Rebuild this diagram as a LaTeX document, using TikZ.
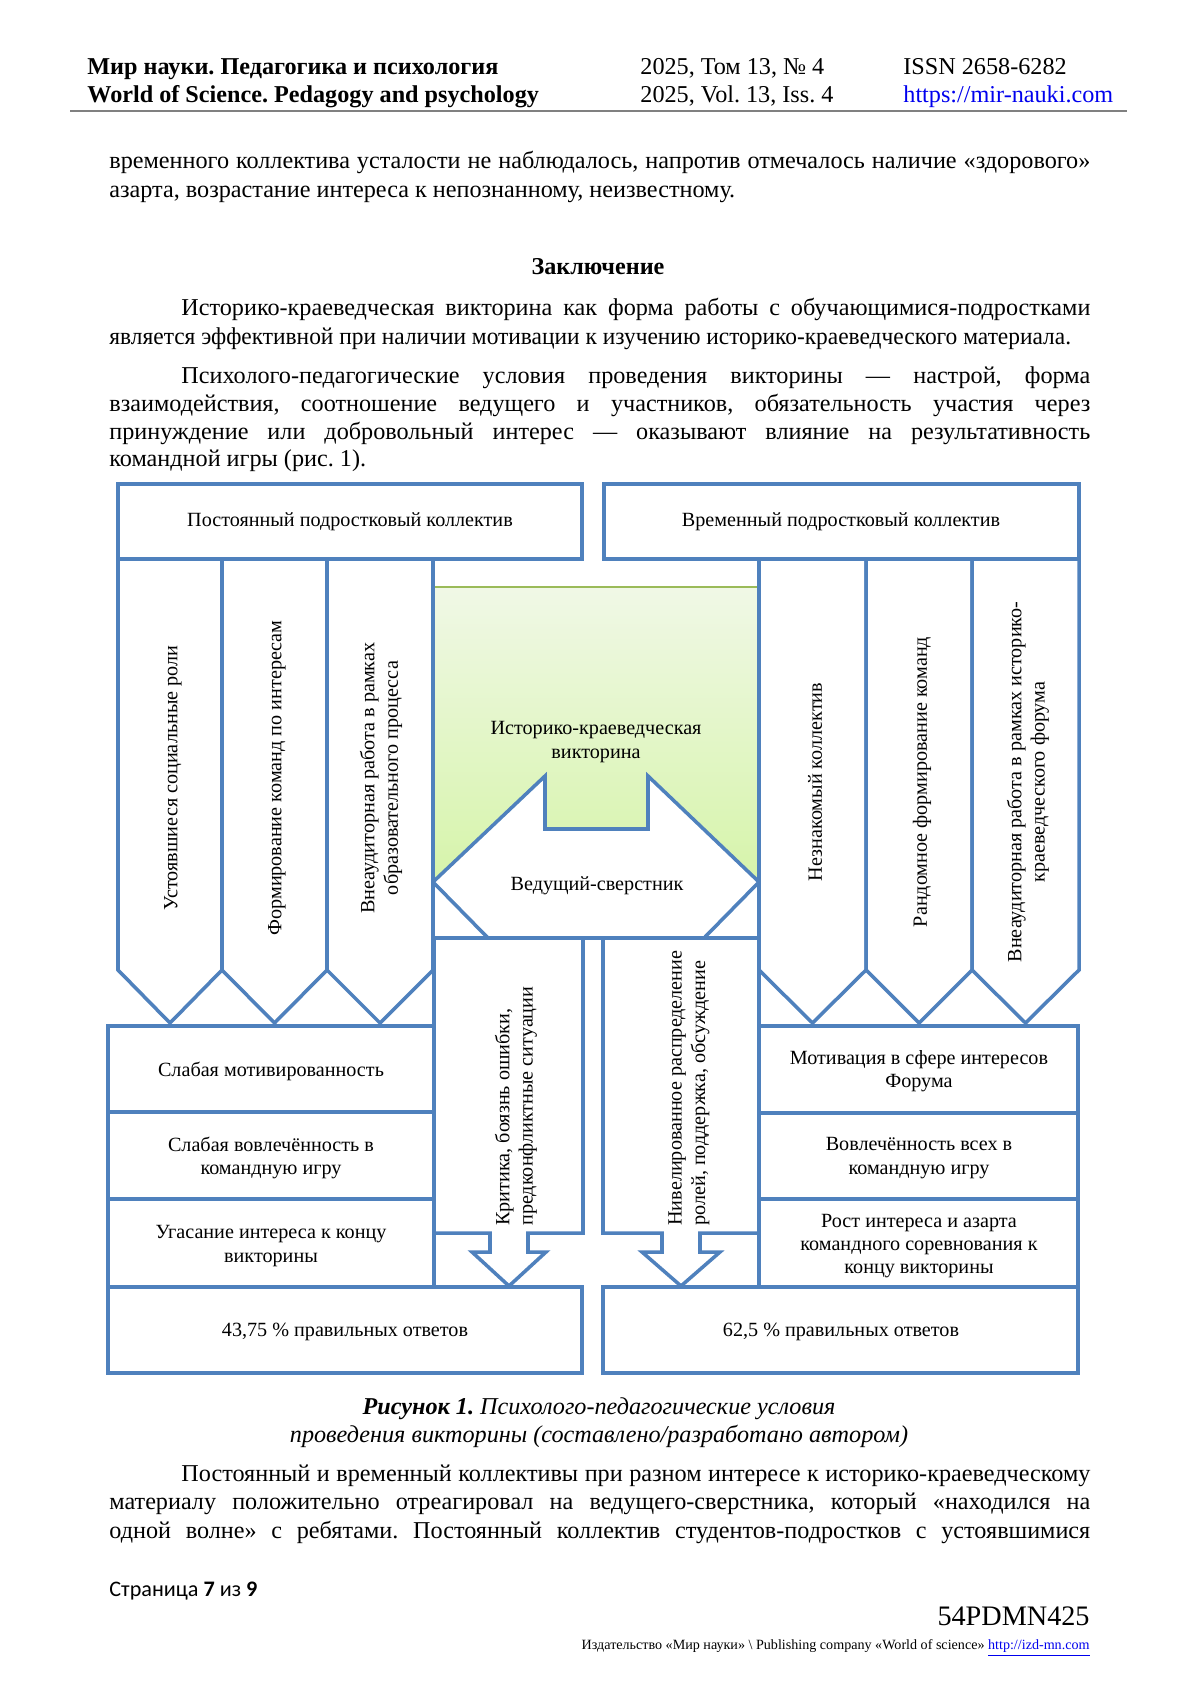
\documentclass[tikz,border=0pt]{standalone}
\usepackage{fontspec}
\usepackage{graphicx}
\setmainfont{Liberation Serif}
\newfontfamily\calibrifont{Carlito}
\definecolor{bblue}{RGB}{79,129,189}
\definecolor{gline}{RGB}{155,187,89}
\definecolor{gtop}{RGB}{240,248,230}
\definecolor{gbot}{RGB}{214,244,170}
\definecolor{linkblue}{RGB}{0,0,238}
\tikzset{
  bx/.style={draw=bblue, line width=1.75pt, fill=white, line join=miter},
  dtxt/.style={inner sep=0pt, font=\fontsize{10}{11.6}\selectfont, align=center},
  body/.style={inner sep=0pt, font=\fontsize{12}{13.8}\selectfont},
}
\begin{document}
\frenchspacing
\begin{tikzpicture}[x=0.49606pt, y=-0.49606pt]
\useasboundingbox (0,0) rectangle (1200,1697);
\fill[white] (0,0) rectangle (1200,1697);

% ---------- header ----------
\node[body, anchor=mid west, font=\fontsize{12}{13.8}\selectfont\bfseries] (h1) at (87,70) {Мир науки. Педагогика и психология};
\node[body, anchor=mid west, font=\fontsize{12}{13.8}\selectfont\bfseries] (h2) at (87,98) {World of Science. Pedagogy and psychology};
\node[body, anchor=mid west] (h3) at (640,70) {2025, Том 13, № 4};
\node[body, anchor=mid west] (h4) at (640,98) {2025, Vol. 13, Iss. 4};
\node[body, anchor=mid west] (h5) at (903,70) {ISSN 2658-6282};
\node[body, anchor=mid west, text=linkblue] (h6) at (903,98) {\underline{https://mir-nauki.com}};
\draw[black!50, line width=1.2pt] (70,111) -- (1127,111);

% ---------- body text ----------
\node[body, anchor=mid west] (b1) at (109,164) {\makebox[486.6pt][s]{временного коллектива усталости не наблюдалось, напротив отмечалось наличие «здорового»}};
\node[body, anchor=mid west] (b2) at (109,193) {азарта, возрастание интереса к непознанному, неизвестному.};
\node[body, anchor=mid, font=\fontsize{12}{13.8}\selectfont\bfseries] (hd) at (598,270) {Заключение};
\node[body, anchor=mid west] (b3) at (181,311) {\makebox[450.9pt][s]{Историко-краеведческая викторина как форма работы с обучающимися-подростками}};
\node[body, anchor=mid west] (b4) at (109,340) {\scalebox{0.968}[1]{является эффективной при наличии мотивации к изучению историко-краеведческого материала.}};
\node[body, anchor=mid west] (b5) at (181,379) {\makebox[450.9pt][s]{Психолого-педагогические условия проведения викторины — настрой, форма}};
\node[body, anchor=mid west] (b6) at (109,407) {\makebox[486.6pt][s]{взаимодействия, соотношение ведущего и участников, обязательность участия через}};
\node[body, anchor=mid west] (b7) at (109,435) {\makebox[486.6pt][s]{принуждение или добровольный интерес — оказывают влияние на результативность}};
\node[body, anchor=mid west] (b8) at (109,462) {командной игры (рис. 1).};

% ---------- diagram ----------
% green area
\path[top color=gtop, bottom color=gbot] (433,587) rectangle (759,882);
\draw[gline, line width=0.8pt] (433,587) -- (759,587);
% three-way arrow (Ведущий-сверстник)
\draw[bx] (433,882) -- (545,776) -- (545,829) -- (648,829) -- (648,776) -- (759,882) -- (704,938) -- (488,938) -- cycle;
% left columns
\draw[bx] (118,559) -- (222,559) -- (222,970) -- (170,1023) -- (118,970) -- cycle;
\draw[bx] (222,559) -- (327,559) -- (327,970) -- (274.5,1023) -- (222,970) -- cycle;
\draw[bx] (327,559) -- (433,559) -- (433,970) -- (380,1023) -- (327,970) -- cycle;
% right columns
\draw[bx] (759,559) -- (866,559) -- (866,970) -- (812.5,1023) -- (759,970) -- cycle;
\draw[bx] (866,559) -- (972,559) -- (972,970) -- (919,1023) -- (866,970) -- cycle;
\draw[bx] (972,559) -- (1079,559) -- (1079,970) -- (1025.5,1023) -- (972,970) -- cycle;
% top boxes
\draw[bx] (118,484) rectangle (582,559);
\draw[bx] (604,484) rectangle (1079,559);
% middle vertical boxes with down arrows
\draw[bx] (434,938) -- (583,938) -- (583,1233) -- (528,1233) -- (528,1252) -- (546,1252) -- (509,1286) -- (472,1252) -- (490,1252) -- (490,1233) -- (434,1233) -- cycle;
\draw[bx] (603,938) -- (759,938) -- (759,1233) -- (700,1233) -- (700,1252) -- (720,1252) -- (681,1286) -- (642,1252) -- (662,1252) -- (662,1233) -- (603,1233) -- cycle;
% left stacked boxes
\draw[bx] (108,1026) rectangle (434,1112);
\draw[bx] (108,1112) rectangle (434,1199);
\draw[bx] (108,1199) rectangle (434,1287);
% right stacked boxes
\draw[bx] (759,1026) rectangle (1078,1113);
\draw[bx] (759,1113) rectangle (1078,1199);
\draw[bx] (759,1199) rectangle (1078,1287);
% result boxes
\draw[bx] (108,1287) rectangle (582,1373);
\draw[bx] (603,1287) rectangle (1078,1373);

% diagram texts
\node[dtxt] (t1) at (350,522) {Постоянный подростковый коллектив};
\node[dtxt] (t2) at (841,522) {Временный подростковый коллектив};
\node[dtxt, rotate=90] (c1) at (173,778) {Устоявшиеся социальные роли};
\node[dtxt, rotate=90] (c2) at (277,778) {Формирование команд по интересам};
\node[dtxt, rotate=90] (c3) at (381,778) {Внеаудиторная работа в рамках\\образовательного процесса};
\node[dtxt, rotate=90] (c4) at (815,782) {Незнакомый коллектив};
\node[dtxt, rotate=90] (c5) at (922,782) {Рандомное формирование команд};
\node[dtxt, rotate=90] (c6) at (1028,782) {Внеаудиторная работа в рамках историко-\\краеведческого форума};
\node[dtxt] (quiz) at (596,742) {Историко-краеведческая\\викторина};
\node[dtxt] (lead) at (597,886) {Ведущий-сверстник};
\node[dtxt, rotate=90, anchor=west, align=left] (crit) at (516,1226) {Критика, боязнь ошибки,\\предконфликтные ситуации};
\node[dtxt, rotate=90, anchor=west, align=left] (niv) at (689,1226) {Нивелированное распределение\\ролей, поддержка, обсуждение};
\node[dtxt] (l1) at (271,1071) {Слабая мотивированность};
\node[dtxt] (l2) at (271,1158) {Слабая вовлечённость в\\командную игру};
\node[dtxt] (l3) at (271,1246) {Угасание интереса к концу\\викторины};
\node[dtxt] (r1) at (919,1071) {Мотивация в сфере интересов\\Форума};
\node[dtxt] (r2) at (919,1158) {Вовлечённость всех в\\командную игру};
\node[dtxt] (r3) at (919,1246) {Рост интереса и азарта\\командного соревнования к\\концу викторины};
\node[dtxt] (res1) at (345,1332) {43,75 \% правильных ответов};
\node[dtxt] (res2) at (841,1332) {62,5 \% правильных ответов};

% ---------- caption ----------
\node[body, anchor=mid] (cap1) at (599,1410) {{\bfseries\itshape Рисунок 1.} {\itshape Психолого-педагогические условия}};
\node[body, anchor=mid, font=\fontsize{12}{13.8}\selectfont\itshape] (cap2) at (599,1438) {проведения викторины (составлено/разработано автором)};

\node[body, anchor=mid west] (b9) at (181,1477) {\makebox[450.9pt][s]{Постоянный и временный коллективы при разном интересе к историко-краеведческому}};
\node[body, anchor=mid west] (b10) at (109,1505) {\makebox[486.6pt][s]{материалу положительно отреагировал на ведущего-сверстника, который «находился на}};
\node[body, anchor=mid west] (b11) at (109,1534) {\makebox[486.6pt][s]{одной волне» с ребятами. Постоянный коллектив студентов-подростков с устоявшимися}};

% ---------- footer ----------
\node[inner sep=0pt, anchor=mid west, font=\calibrifont\fontsize{11}{13}\selectfont] (pg) at (109,1592) {Страница \textbf{7} из \textbf{9}};
\node[inner sep=0pt, anchor=mid east, font=\fontsize{14}{16}\selectfont] (code) at (1090,1621) {54PDMN425};
\node[inner sep=0pt, anchor=mid east, font=\fontsize{7}{8}\selectfont] (pub) at (1090,1645) {Издательство «Мир науки» \textbackslash{} Publishing company «World of science» \textcolor{linkblue}{\underline{http://izd-mn.com}}};
\end{tikzpicture}
\end{document}
